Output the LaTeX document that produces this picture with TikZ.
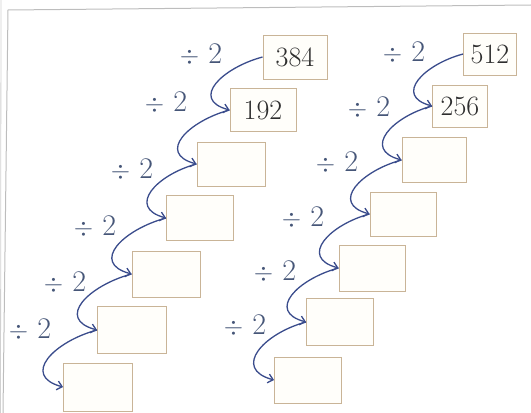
\documentclass[tikz,border=0pt]{standalone}
\usetikzlibrary{arrows.meta}
\definecolor{arrowblue}{HTML}{3A4C8C}
\definecolor{labelblue}{HTML}{465678}
\definecolor{boxline}{HTML}{C9B497}
\definecolor{boxfill}{HTML}{FFFEFA}
\definecolor{numgray}{HTML}{2E2E2E}
\definecolor{edgegray}{HTML}{BDBDBD}
\tikzset{
  ansbox/.style={draw=boxline, fill=boxfill, line width=0.9pt, inner sep=0pt,
    text=numgray, font=\fontsize{28}{30}\selectfont},
  divlabel/.style={text=labelblue, font=\fontsize{30}{32}\selectfont, inner sep=0pt},
  halfarrow/.style={draw=arrowblue, line width=1.3pt,
    -{Straight Barb[length=5pt,width=9pt]},
    out=195, in=165, looseness=1.7}
}
\begin{document}
\begin{tikzpicture}[x=1pt,y=1pt]
\useasboundingbox (0,0) rectangle (531,413);
% paper edge
\draw[edgegray, line width=1pt] (8,403) -- (531,408);
\draw[edgegray, line width=1pt] (8,403) -- (3,0);
\draw[edgegray!70, line width=0.8pt] (1,413) -- (0.5,0);
% left column boxes (centre x, 413 - centre y)
\node[ansbox, minimum width=64pt, minimum height=44pt] (l1) at (295,356) {384};
\node[ansbox, minimum width=66pt, minimum height=43pt] (l2) at (263,303) {192};
\node[ansbox, minimum width=68pt, minimum height=44pt] (l3) at (231,249) {};
\node[ansbox, minimum width=67pt, minimum height=45pt] (l4) at (200,195) {};
\node[ansbox, minimum width=68pt, minimum height=46pt] (l5) at (166,139) {};
\node[ansbox, minimum width=69pt, minimum height=47pt] (l6) at (132,83) {};
\node[ansbox, minimum width=69pt, minimum height=48pt] (l7) at (98,26) {};
% right column boxes
\node[ansbox, minimum width=53pt, minimum height=42pt] (r1) at (490,359) {512};
\node[ansbox, minimum width=55pt, minimum height=42pt] (r2) at (460,307) {256};
\node[ansbox, minimum width=64pt, minimum height=45pt] (r3) at (434,253) {};
\node[ansbox, minimum width=66pt, minimum height=44pt] (r4) at (403,199) {};
\node[ansbox, minimum width=66pt, minimum height=46pt] (r5) at (372,145) {};
\node[ansbox, minimum width=67pt, minimum height=47pt] (r6) at (340,91) {};
\node[ansbox, minimum width=67pt, minimum height=46pt] (r7) at (308,33) {};
% labels
\node[divlabel] (ll1) at (201,358) {$\div$ 2};
\node[divlabel] (ll2) at (166,310) {$\div$ 2};
\node[divlabel] (ll3) at (132,243) {$\div$ 2};
\node[divlabel] (ll4) at (95,186) {$\div$ 2};
\node[divlabel] (ll5) at (65,130) {$\div$ 2};
\node[divlabel] (ll6) at (30,83) {$\div$ 2};
\node[divlabel] (rl1) at (404,360) {$\div$ 2};
\node[divlabel] (rl2) at (369,305) {$\div$ 2};
\node[divlabel] (rl3) at (337,250) {$\div$ 2};
\node[divlabel] (rl4) at (303,195) {$\div$ 2};
\node[divlabel] (rl5) at (275,141) {$\div$ 2};
\node[divlabel] (rl6) at (245,87) {$\div$ 2};
% arrows
\foreach \a/\b in {l1/l2,l2/l3,l3/l4,l4/l5,l5/l6,l6/l7,r1/r2,r2/r3,r3/r4,r4/r5,r5/r6,r6/r7}
  \draw[halfarrow] (\a.west) to (\b.west);
\end{tikzpicture}
\end{document}
